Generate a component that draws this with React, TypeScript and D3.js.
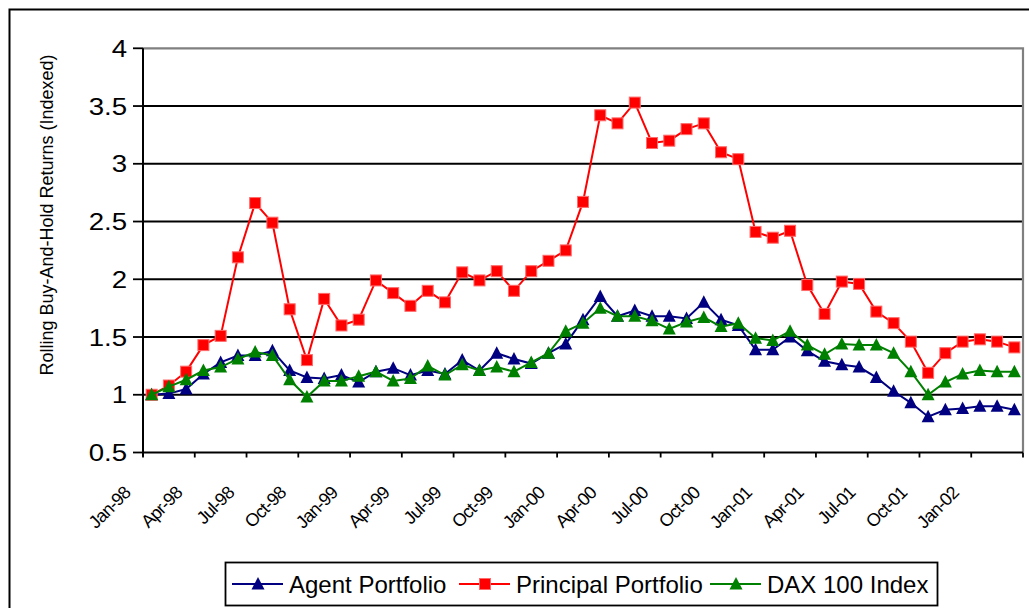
import React, { useEffect, useRef } from "react";
import * as d3 from "d3";

// monthly categories, Jan-98 .. Mar-02
const months = [
  "Jan-98", "Feb-98", "Mar-98", "Apr-98", "May-98", "Jun-98", "Jul-98", "Aug-98", "Sep-98", "Oct-98", "Nov-98", "Dec-98",
  "Jan-99", "Feb-99", "Mar-99", "Apr-99", "May-99", "Jun-99", "Jul-99", "Aug-99", "Sep-99", "Oct-99", "Nov-99", "Dec-99",
  "Jan-00", "Feb-00", "Mar-00", "Apr-00", "May-00", "Jun-00", "Jul-00", "Aug-00", "Sep-00", "Oct-00", "Nov-00", "Dec-00",
  "Jan-01", "Feb-01", "Mar-01", "Apr-01", "May-01", "Jun-01", "Jul-01", "Aug-01", "Sep-01", "Oct-01", "Nov-01", "Dec-01",
  "Jan-02", "Feb-02", "Mar-02",
];

const agentPortfolio = [
  1.0, 1.01, 1.05, 1.18, 1.28, 1.34, 1.34, 1.38, 1.21, 1.15, 1.14, 1.17,
  1.11, 1.2, 1.23, 1.17, 1.21, 1.18, 1.3, 1.21, 1.36, 1.31, 1.27, 1.36,
  1.44, 1.65, 1.85, 1.68, 1.73, 1.68, 1.68, 1.66, 1.8, 1.65, 1.6, 1.39,
  1.39, 1.5, 1.38, 1.29, 1.26, 1.24, 1.15, 1.03, 0.93, 0.81, 0.87, 0.88,
  0.9, 0.9, 0.87,
];

const principalPortfolio = [
  1.0, 1.08, 1.2, 1.43, 1.51, 2.19, 2.66, 2.49, 1.74, 1.3, 1.83, 1.6,
  1.65, 1.99, 1.88, 1.77, 1.9, 1.8, 2.06, 1.99, 2.07, 1.9, 2.07, 2.16,
  2.25, 2.67, 3.42, 3.35, 3.53, 3.18, 3.2, 3.3, 3.35, 3.1, 3.04, 2.41,
  2.36, 2.42, 1.95, 1.7, 1.98, 1.96, 1.72, 1.62, 1.46, 1.19, 1.36, 1.46,
  1.48, 1.46, 1.41,
];

const daxIndex = [
  1.0, 1.07, 1.13, 1.21, 1.24, 1.31, 1.37, 1.34, 1.13, 0.98, 1.12, 1.12,
  1.16, 1.2, 1.12, 1.14, 1.25, 1.17, 1.26, 1.21, 1.24, 1.2, 1.28, 1.36,
  1.55, 1.62, 1.75, 1.68, 1.68, 1.64, 1.57, 1.63, 1.67, 1.59, 1.62, 1.49,
  1.47, 1.55, 1.43, 1.35, 1.44, 1.43, 1.43, 1.36, 1.2, 1.0, 1.11, 1.18,
  1.21, 1.2, 1.2,
];

const yTicks = [0.5, 1, 1.5, 2, 2.5, 3, 3.5, 4];
const seriesNames = ["Agent Portfolio", "Principal Portfolio", "DAX 100 Index"];

const FONT = "Arial, 'Liberation Sans', sans-serif";

const App = () => {
  const chartRef = useRef(null);

  useEffect(() => {
    drawChart();
  }, []);

  const drawChart = () => {
    const svg = d3.select(chartRef.current);
    svg.selectAll("*").remove();

    const plot = { left: 143, right: 1023, top: 48.3, bottom: 452.5 };

    const x = d3.scaleBand().domain(months).range([plot.left, plot.right]);
    const cx = (m) => x(m) + x.bandwidth() / 2;
    const y = d3.scaleLinear().domain([0.5, 4]).range([plot.bottom, plot.top]);

    // outer chart border
    svg
      .append("rect")
      .attr("x", 9.5)
      .attr("y", 9.5)
      .attr("width", 1040)
      .attr("height", 640)
      .attr("fill", "white")
      .attr("stroke", "black")
      .attr("stroke-width", 2);

    // gridlines
    svg
      .append("g")
      .selectAll("line")
      .data(yTicks.filter((t) => t > 0.5 && t < 4))
      .join("line")
      .attr("x1", plot.left)
      .attr("x2", plot.right)
      .attr("y1", (d) => y(d))
      .attr("y2", (d) => y(d))
      .attr("stroke", "black")
      .attr("stroke-width", 2);

    // plot area border (top / right)
    svg
      .append("path")
      .attr("d", `M${plot.left},${y(4)}H${plot.right}V${plot.bottom}`)
      .attr("fill", "none")
      .attr("stroke", "#808080")
      .attr("stroke-width", 2.2);

    // y axis
    const yAxis = svg.append("g");
    yAxis
      .append("line")
      .attr("x1", plot.left)
      .attr("x2", plot.left)
      .attr("y1", plot.top)
      .attr("y2", plot.bottom + 4)
      .attr("stroke", "black")
      .attr("stroke-width", 2);
    yAxis
      .selectAll(".tick")
      .data(yTicks)
      .join("line")
      .attr("x1", plot.left - 10)
      .attr("x2", plot.left)
      .attr("y1", (d) => y(d))
      .attr("y2", (d) => y(d))
      .attr("stroke", "black")
      .attr("stroke-width", 1.8);
    yAxis
      .selectAll("text")
      .data(yTicks)
      .join("text")
      .attr("transform", (d) => `translate(127,${y(d) + 8.5}) scale(1.15,1)`)
      .attr("text-anchor", "end")
      .attr("font-family", FONT)
      .attr("font-size", 24)
      .text((d) => d);

    svg
      .append("text")
      .attr("transform", "translate(53,215) rotate(-90)")
      .attr("text-anchor", "middle")
      .attr("font-family", FONT)
      .attr("font-size", 18)
      .text("Rolling Buy-And-Hold Returns (Indexed)");

    // x axis
    const xAxis = svg.append("g");
    xAxis
      .append("line")
      .attr("x1", plot.left)
      .attr("x2", plot.right)
      .attr("y1", plot.bottom)
      .attr("y2", plot.bottom)
      .attr("stroke", "black")
      .attr("stroke-width", 2);
    const tickMonths = months.filter((m, i) => i % 3 === 0);
    xAxis
      .selectAll(".tick")
      .data([...tickMonths.map((m) => x(m)), plot.right])
      .join("line")
      .attr("x1", (d) => d)
      .attr("x2", (d) => d)
      .attr("y1", plot.bottom)
      .attr("y2", plot.bottom + 5)
      .attr("stroke", "black")
      .attr("stroke-width", 1.8);
    xAxis
      .selectAll("text")
      .data(tickMonths)
      .join("text")
      .attr("transform", (d) => `translate(${cx(d) - 20},494) rotate(-45)`)
      .attr("text-anchor", "end")
      .attr("font-family", FONT)
      .attr("font-size", 18)
      .attr("letter-spacing", -0.8)
      .text((d) => d);

    // series
    const series = [
      { name: seriesNames[0], values: agentPortfolio, color: "#000080", marker: "triangle" },
      { name: seriesNames[1], values: principalPortfolio, color: "#ff0000", marker: "square" },
      { name: seriesNames[2], values: daxIndex, color: "#008000", marker: "triangle" },
    ];

    const line = d3
      .line()
      .x((d, i) => cx(months[i]))
      .y((d) => y(d));

    const drawMarker = (g, s, px, py) => {
      if (s.marker === "square") {
        g.append("rect")
          .attr("x", px - 5.5)
          .attr("y", py - 5.5)
          .attr("width", 11)
          .attr("height", 11)
          .attr("fill", s.color)
          .attr("stroke", "#ff6a6a")
          .attr("stroke-width", 1);
      } else {
        g.append("path")
          .attr("d", `M${px},${py - 7}L${px + 6.5},${py + 5.5}L${px - 6.5},${py + 5.5}Z`)
          .attr("fill", s.color);
      }
    };

    series.forEach((s) => {
      const g = svg.append("g");
      g.append("path")
        .datum(s.values)
        .attr("fill", "none")
        .attr("stroke", s.color)
        .attr("stroke-width", 2)
        .attr("d", line);
      s.values.forEach((v, i) => drawMarker(g, s, cx(months[i]), y(v)));
    });

    // legend
    const legend = svg.append("g");
    legend
      .append("rect")
      .attr("x", 225.5)
      .attr("y", 562.5)
      .attr("width", 712)
      .attr("height", 43)
      .attr("fill", "white")
      .attr("stroke", "black")
      .attr("stroke-width", 1.8);
    const legendX = [232, 459, 710];
    series.forEach((s, i) => {
      const lx = legendX[i];
      legend
        .append("line")
        .attr("x1", lx)
        .attr("x2", lx + 51)
        .attr("y1", 584)
        .attr("y2", 584)
        .attr("stroke", s.color)
        .attr("stroke-width", 2);
      drawMarker(legend, s, lx + 26, 584);
      legend
        .append("text")
        .attr("x", lx + 57)
        .attr("y", 592.5)
        .attr("font-family", FONT)
        .attr("font-size", 24)
        .text(s.name);
    });
  };

  return (
    <svg
      ref={chartRef}
      width={1029}
      height={608}
      style={{ position: "absolute", left: 0, top: 0, background: "white" }}
    ></svg>
  );
};

export default App;
